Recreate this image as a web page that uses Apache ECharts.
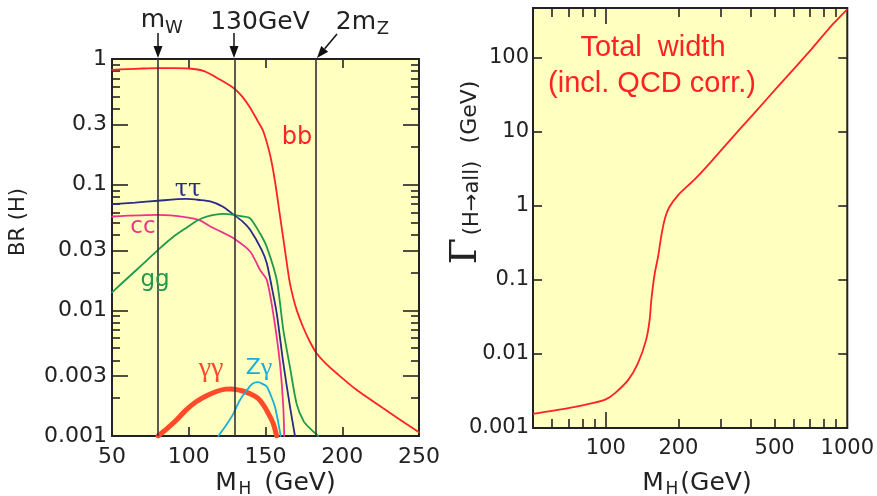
<!DOCTYPE html>
<html>
<head>
<meta charset="utf-8">
<script src="https://cdn.jsdelivr.net/npm/echarts@6/dist/echarts.min.js"></script>
<style>
  html, body { margin: 0; padding: 0; background: #fff; }
  #main { width: 877px; height: 496px; }
</style>
</head>
<body>
<div id="main"></div>
<script>
// branching ratios (left panel), [M_H GeV, BR]
var bbData = [[50,0.82],[60,0.83],[70,0.84],[80,0.845],[90,0.845],[100,0.84],[110,0.8],[120,0.69],[129,0.59],[135,0.5],[140,0.41],[145,0.32],[148.6,0.265],[153,0.172],[156.2,0.106],[159.4,0.057],[162.7,0.03],[165.5,0.0175],[167.9,0.0128],[170.5,0.0099],[174.4,0.0074],[179,0.0056],[183.3,0.00456],[189,0.0038],[196.3,0.00316],[209.3,0.00233],[226.7,0.00166],[250,0.00107]];
var tautauData = [[50,0.070],[65,0.072],[80,0.0745],[98,0.077],[107,0.0755],[114,0.0735],[122,0.067],[129,0.058],[135,0.051],[140,0.0438],[147.5,0.0303],[150.8,0.0238],[154,0.0155],[157.3,0.0095],[161.6,0.0038],[166,0.0017],[169.2,0.001]];
var ccData = [[50,0.0558],[80,0.0574],[98.6,0.055],[107.3,0.052],[114,0.0465],[122,0.0417],[129,0.0376],[140,0.0294],[146.4,0.021],[150.8,0.0175],[155,0.0095],[159.4,0.0038],[161.6,0.0017],[162.2,0.001]];
var ggData = [[50,0.0139],[60,0.018],[70,0.0233],[80,0.0303],[90,0.0385],[98.6,0.0455],[105,0.0514],[111.6,0.0558],[122.5,0.0585],[129,0.0576],[135,0.056],[140,0.054],[146.4,0.041],[150.8,0.032],[157.3,0.0175],[161.6,0.007],[166,0.0035],[170.3,0.0018],[175,0.0013],[179,0.00115],[184.4,0.001]];
var gamgamData = [[80,0.001],[86,0.00115],[92,0.00134],[98,0.0016],[105,0.00188],[112,0.0021],[118,0.00226],[124,0.00236],[128,0.00237],[134,0.0023],[140,0.00217],[145,0.002],[148.6,0.00177],[152,0.0015],[155,0.00126],[157.3,0.001]];
var zgamData = [[119.3,0.001],[124,0.0012],[129,0.0015],[133,0.0019],[137.7,0.0023],[141.5,0.0026],[145.3,0.00268],[148,0.0026],[150.8,0.00248],[153.5,0.0021],[156.2,0.0017],[158.2,0.0013],[159.9,0.001]];
var thresholds = [80, 130, 183];

// total width (right panel), [M_H GeV, Gamma GeV]
var widthData = [[50,0.00155],[70,0.00185],[90,0.0022],[100,0.00244],[109,0.00294],[124,0.00446],[136,0.0075],[147,0.0155],[152,0.0288],[154.5,0.054],[159.6,0.123],[164.8,0.207],[170,0.4],[176,0.68],[183,0.95],[199.5,1.4],[234,2.3],[274,4.0],[321,7.2],[414,18.2],[517,41],[711,131],[850,260],[1000,450]];

// tick labels / tick positions
var brLabels = [0.001, 0.003, 0.01, 0.03, 0.1, 0.3, 1];
var brMinor = [0.002,0.004,0.005,0.006,0.007,0.008,0.009,0.02,0.04,0.05,0.06,0.07,0.08,0.09,0.2,0.4,0.5,0.6,0.7,0.8,0.9];
var mLeftTicks = [100, 150, 200];
var wLabels = [0.001, 0.01, 0.1, 1, 10, 100];
var mRightLabels = [100, 200, 500, 1000];
var mRightMajor = [100];
var mRightMinor = [60,70,80,90,200,300,400,500,600,700,800,900];

var FONT = 'DejaVu Sans';
var INK = '#222';

var myChart = echarts.init(document.getElementById('main'));

function tickOnly(type, grid, pos, min, max, ticks, len) {
    return {
        type: type, gridIndex: grid, position: pos, min: min, max: max,
        axisLine: { show: false }, splitLine: { show: false },
        axisLabel: { show: false },
        axisTick: { show: true, inside: true, length: len, customValues: ticks,
            lineStyle: { color: INK, width: 1.6 } }
    };
}

function labelStyle(margin, values, size) {
    return { show: true, customValues: values, margin: margin, color: INK,
        fontFamily: FONT, fontSize: size,
        formatter: function (v) { return String(+(+v).toPrecision(3)); } };
}

var xAxes = [
    // left panel bottom
    {
        type: 'value', gridIndex: 0, position: 'bottom', min: 50, max: 250, interval: 50,
        axisLine: { show: false }, splitLine: { show: false },
        axisTick: { show: true, inside: true, length: 9, customValues: mLeftTicks, lineStyle: { color: INK, width: 1.6 } },
        axisLabel: { show: true, margin: 10, color: INK, fontFamily: FONT, fontSize: 22 }
    },
    tickOnly('value', 0, 'top', 50, 250, mLeftTicks, 9),
    // right panel bottom
    (function () {
        var a = tickOnly('log', 1, 'bottom', 50, 1000, mRightMajor, 16);
        a.axisLabel = labelStyle(10, mRightLabels, 21);
        return a;
    })(),
    tickOnly('log', 1, 'bottom', 50, 1000, mRightMinor, 9),
    tickOnly('log', 1, 'top', 50, 1000, mRightMajor, 16),
    tickOnly('log', 1, 'top', 50, 1000, mRightMinor, 9)
];

var yAxes = [
    (function () {
        var a = tickOnly('log', 0, 'left', 0.001, 1, brLabels, 16);
        a.axisLabel = labelStyle(5, brLabels, 22);
        return a;
    })(),
    tickOnly('log', 0, 'left', 0.001, 1, brMinor, 8),
    tickOnly('log', 0, 'right', 0.001, 1, brLabels, 16),
    tickOnly('log', 0, 'right', 0.001, 1, brMinor, 8),
    (function () {
        var a = tickOnly('log', 1, 'left', 0.001, 470, wLabels, 9);
        a.axisLabel = labelStyle(4, wLabels, 21);
        return a;
    })(),
    tickOnly('log', 1, 'right', 0.001, 470, wLabels, 9)
];

function brLine(name, data, color, width) {
    return {
        name: name, type: 'line', xAxisIndex: 0, yAxisIndex: 0,
        data: data, showSymbol: false, symbol: 'none', smooth: 0.25,
        lineStyle: { color: color, width: width, cap: 'round' }, clip: true, z: 3
    };
}

var series = [
    {
        name: 'thresholds', type: 'line', xAxisIndex: 0, yAxisIndex: 0, data: [], z: 2,
        markLine: {
            silent: true, symbol: 'none', label: { show: false },
            lineStyle: { color: '#333', width: 1.6, type: 'solid' },
            data: thresholds.map(function (m) { return { xAxis: m }; })
        }
    },
    brLine('bb', bbData, '#ff2222', 1.8),
    brLine('tautau', tautauData, '#2a2a8c', 1.8),
    brLine('cc', ccData, '#f0308c', 1.8),
    brLine('gg', ggData, '#1e9a4a', 1.8),
    brLine('gamgam', gamgamData, '#ff4a2a', 5),
    brLine('Zgam', zgamData, '#1aaed6', 1.8),
    {
        name: 'width', type: 'line', xAxisIndex: 2, yAxisIndex: 4,
        data: widthData, showSymbol: false, symbol: 'none', smooth: 0.25,
        lineStyle: { color: '#ff2222', width: 1.8 }, z: 3
    }
];

function txt(x, y, s, size, color, extra) {
    var st = { text: s, x: 0, y: 0, fill: color || INK, fontFamily: FONT, fontSize: size,
        align: 'center', verticalAlign: 'middle' };
    if (extra) { for (var k in extra) st[k] = extra[k]; }
    return { type: 'text', x: x, y: y, style: st, z: 10 };
}

function vtxt(x, y, s, size, family) {
    return { type: 'text', x: x, y: y, rotation: Math.PI / 2, z: 10,
        style: { text: s, fill: INK, fontFamily: family || FONT, fontSize: size, align: 'center', verticalAlign: 'middle' } };
}

function arrow(x1, y1, x2, y2) {
    var ang = Math.atan2(y2 - y1, x2 - x1), L = 12, W = 4.5;
    var bx = x2 - L * Math.cos(ang), by = y2 - L * Math.sin(ang);
    var nx = -Math.sin(ang) * W, ny = Math.cos(ang) * W;
    return [
        { type: 'line', shape: { x1: x1, y1: y1, x2: bx, y2: by }, style: { stroke: '#111', lineWidth: 1.5 }, z: 10 },
        { type: 'polygon', shape: { points: [[x2, y2], [bx + nx, by + ny], [bx - nx, by - ny]] }, style: { fill: '#111' }, z: 10 }
    ];
}

var graphics = [].concat(
    // top annotations
    [txt(153, 20, 'm', 25), txt(174, 28, 'W', 18),
     txt(260, 22, '130GeV', 25),
     txt(356, 22, '2m', 25), txt(383, 29, 'Z', 18)],
    arrow(158, 33, 158, 58),
    arrow(234, 33, 234, 58),
    arrow(337, 34, 317, 58),
    // curve labels
    [txt(297, 138, 'bb', 24, '#ff2222'),
     txt(188, 190, 'ττ', 24, '#2a2a8c', { fontFamily: 'DejaVu Serif' }),
     txt(143, 227, 'cc', 23, '#f0308c'),
     txt(155, 280, 'gg', 23, '#1e9a4a'),
     txt(211, 369, 'γγ', 28, '#ff4a2a', { fontFamily: 'Liberation Serif' }),
     { type: 'text', x: 259, y: 368, z: 10,
       style: { text: '{z|Z}{g|γ}', x: 0, y: 0, align: 'center', verticalAlign: 'middle',
         rich: { z: { fill: '#1aaed6', fontFamily: FONT, fontSize: 22 },
                 g: { fill: '#1aaed6', fontFamily: 'Liberation Serif', fontSize: 26 } } } }],
    // axis titles
    [vtxt(19, 222, 'BR (H)', 21),
     txt(226, 483, 'M', 25), txt(245, 490, 'H', 17), txt(300, 483, '(GeV)', 25),
     txt(653, 483, 'M', 25), txt(672, 490, 'H', 17), txt(716, 483, '(GeV)', 25),
     vtxt(466, 251, 'Γ', 38, 'DejaVu Serif'),
     vtxt(473, 198, '(H→all)', 21),
     vtxt(470, 112, '(GeV)', 22),
     txt(653, 48, 'Total  width', 29, '#ff2222', { fontFamily: 'Liberation Sans' }),
     txt(652, 84, '(incl. QCD corr.)', 29, '#ff2222', { fontFamily: 'Liberation Sans' })]
);

var option = {
    animation: false,
    backgroundColor: '#fff',
    grid: [
        { left: 112, top: 59, width: 307, height: 377, show: true, backgroundColor: '#ffffc0', borderColor: INK, borderWidth: 2 },
        { left: 533, top: 8, width: 316, height: 420, show: true, backgroundColor: '#ffffc0', borderColor: INK, borderWidth: 2 }
    ],
    xAxis: xAxes,
    yAxis: yAxes,
    series: series,
    graphic: graphics
};

myChart.setOption(option);
</script>
</body>
</html>
